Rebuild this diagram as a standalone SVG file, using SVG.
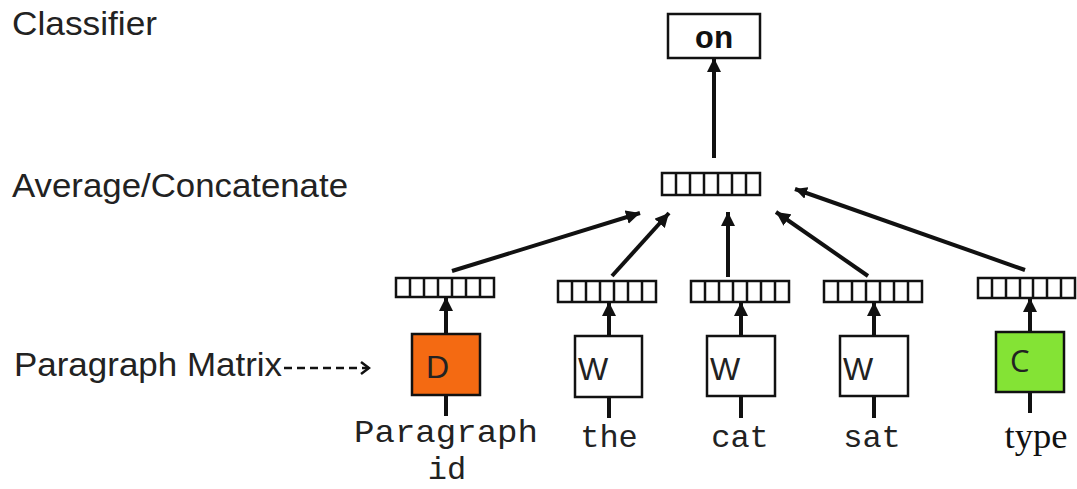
<svg xmlns="http://www.w3.org/2000/svg" width="1077" height="489" viewBox="0 0 1077 489">
<style>
.lbl{font-family:"Liberation Sans",Arial,sans-serif;font-size:33px;fill:#222}
.mono{font-family:"Liberation Mono","Courier New",monospace;font-size:32px;fill:#222;text-anchor:middle}
.vec{fill:#fff;stroke:#111;stroke-width:2.5}
.box{stroke:#111;stroke-width:2.5}
.conn{stroke:#111;stroke-width:4;fill:none}
.letter{font-family:"Liberation Sans",Arial,sans-serif;font-size:32px;fill:#222}
</style>
<defs>
<marker id="ah" markerUnits="userSpaceOnUse" markerWidth="16" markerHeight="14" refX="14" refY="7" orient="auto"><path d="M0,0 L14,7 L0,14 z" fill="#111"/></marker>
<marker id="ah2" markerUnits="userSpaceOnUse" markerWidth="14" markerHeight="12" refX="12" refY="6" orient="auto"><path d="M0,0 L12,6 L0,12 z" fill="#111"/></marker>
<marker id="chev" markerUnits="userSpaceOnUse" markerWidth="12" markerHeight="14" refX="10" refY="7" orient="auto"><path d="M2,1 L10,7 L2,13" fill="none" stroke="#111" stroke-width="2.5"/></marker>
</defs>
<rect width="1077" height="489" fill="#fff"/>
<text class="lbl" x="12" y="35" textLength="145" lengthAdjust="spacingAndGlyphs">Classifier</text>
<text class="lbl" x="12" y="197" textLength="336" lengthAdjust="spacingAndGlyphs">Average/Concatenate</text>
<text class="lbl" x="14" y="376" textLength="268" lengthAdjust="spacingAndGlyphs">Paragraph Matrix</text>

<g id="connectors">
<line class="conn" x1="714" y1="158" x2="714" y2="58" marker-end="url(#ah)"/>
<line class="conn" x1="452" y1="271" x2="640" y2="213" marker-end="url(#ah)"/>
<line class="conn" x1="612" y1="276" x2="669" y2="213" marker-end="url(#ah)"/>
<line class="conn" x1="728" y1="277" x2="728" y2="212" marker-end="url(#ah)"/>
<line class="conn" x1="868" y1="276" x2="776" y2="212" marker-end="url(#ah)"/>
<line class="conn" x1="1025" y1="270" x2="795" y2="189" stroke-width="2.5" marker-end="url(#ah2)"/>
<line class="conn" x1="446" y1="334" x2="446" y2="297" marker-end="url(#ah)"/>
<line class="conn" x1="609" y1="336" x2="609" y2="302" marker-end="url(#ah)"/>
<line class="conn" x1="741" y1="336" x2="741" y2="302" marker-end="url(#ah)"/>
<line class="conn" x1="874" y1="336" x2="874" y2="302" marker-end="url(#ah)"/>
<line class="conn" x1="1030" y1="332" x2="1030" y2="298" marker-end="url(#ah)"/>
<line class="conn" x1="446" y1="395" x2="446" y2="416"/>
<line class="conn" x1="609" y1="397" x2="609" y2="418"/>
<line class="conn" x1="741" y1="396" x2="741" y2="418"/>
<line class="conn" x1="874" y1="396" x2="874" y2="418"/>
<line class="conn" x1="1030" y1="392" x2="1030" y2="413"/>
<line x1="284" y1="368" x2="369" y2="368" stroke="#111" stroke-width="2.5" stroke-dasharray="8,5" marker-end="url(#chev)"/>
</g>

<g id="classifier">
<rect x="668" y="14" width="92" height="44" fill="#fff" class="box"/>
<text x="714" y="48" font-family="Liberation Mono,Courier New,monospace" font-weight="bold" font-size="32" text-anchor="middle" fill="#111">on</text>
</g>
<g id="average">
<rect class="vec" x="662" y="173" width="98" height="22"/>
<path class="vec" d="M676,173V195M690,173V195M704,173V195M718,173V195M732,173V195M746,173V195"/>
</g>
<g id="vec-d">
<rect class="vec" x="396" y="278" width="98" height="19"/>
<path class="vec" d="M410,278V297M424,278V297M438,278V297M452,278V297M466,278V297M480,278V297"/>
</g>
<g id="vec-w1">
<rect class="vec" x="558" y="281" width="98" height="21"/>
<path class="vec" d="M572,281V302M586,281V302M600,281V302M614,281V302M628,281V302M642,281V302"/>
</g>
<g id="vec-w2">
<rect class="vec" x="691" y="281" width="98" height="21"/>
<path class="vec" d="M705,281V302M719,281V302M733,281V302M747,281V302M761,281V302M775,281V302"/>
</g>
<g id="vec-w3">
<rect class="vec" x="824" y="281" width="98" height="21"/>
<path class="vec" d="M838,281V302M852,281V302M866,281V302M880,281V302M894,281V302M908,281V302"/>
</g>
<g id="vec-c">
<rect class="vec" x="978" y="278" width="97" height="20"/>
<path class="vec" d="M992,278V298M1006,278V298M1020,278V298M1033,278V298M1047,278V298M1061,278V298"/>
</g>
<g id="node-d">
<rect class="box" x="412" y="334" width="68" height="61" fill="#F46A12"/>
<text class="letter" x="426" y="378">D</text>
<text class="mono" x="446" y="442" textLength="184" lengthAdjust="spacingAndGlyphs">Paragraph</text>
<text class="mono" x="447" y="479">id</text>
</g>
<g id="node-w1">
<rect class="box" x="575" y="336" width="67" height="61" fill="#fff"/>
<text class="letter" x="578" y="380">W</text>
<text class="mono" x="609" y="447">the</text>
</g>
<g id="node-w2">
<rect class="box" x="707" y="336" width="68" height="60" fill="#fff"/>
<text class="letter" x="710" y="380">W</text>
<text class="mono" x="740" y="447">cat</text>
</g>
<g id="node-w3">
<rect class="box" x="840" y="336" width="68" height="60" fill="#fff"/>
<text class="letter" x="843" y="380">W</text>
<text class="mono" x="872" y="447">sat</text>
</g>
<g id="node-c">
<rect class="box" x="996" y="332" width="68" height="60" fill="#84E335"/>
<text x="1010" y="372" font-family="Open Sans,Liberation Sans,sans-serif" font-size="31" fill="#222">C</text>
<text x="1036" y="448" font-family="Liberation Serif,Times New Roman,serif" font-size="36" text-anchor="middle" fill="#111" textLength="63" lengthAdjust="spacingAndGlyphs">type</text>
</g>
</svg>
